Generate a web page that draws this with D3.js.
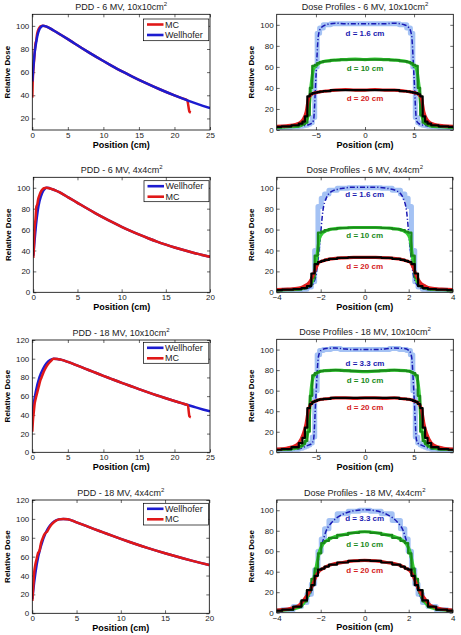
<!DOCTYPE html>
<html><head><meta charset="utf-8">
<script src="https://cdn.jsdelivr.net/npm/d3@7"></script>
<style>body{margin:0;background:#fff}svg{display:block}text{font-family:Arial,"Liberation Sans",sans-serif}</style>
</head><body><svg id="c" width="461" height="635"></svg>
<script>
// ---------- PDD data ----------
const pdd1WellDepth = [0,0.1,0.2,0.3,0.5,0.7,1.0,1.3,1.5,1.8,2.0,2.5,3,4,5,6,7,8,9,10,11,12,13,14,15,16,17,18,19,20,21,22,23,24,25];
const pdd1WellDose  = [52,60,68,75,84,91,97,99.5,100,99.8,99.3,97.8,96,92.3,88.5,84.6,80.7,76.9,73.2,69.6,66.1,62.7,59.5,56.4,53.4,50.5,47.7,45.0,42.4,39.9,37.5,35.2,33.0,30.9,28.9];
const pdd1MCDepth = [0,0.05,0.15,0.25,0.35,0.45,0.55,0.65,0.8,1.0,1.2,1.5,2,3,4,5,6,7,8,9,10,11,12,13,14,15,16,17,18,19,20,21,21.8,21.9,22.0,22.1,22.3];
const pdd1MCDose  = [38,50,62,70,78,85,87,92,96,98.5,99.8,100,99.3,96,92.3,88.5,84.6,80.7,76.9,73.2,69.6,66.1,62.7,59.5,56.4,53.4,50.5,47.7,45.0,42.4,39.9,37.5,35.7,33,29,26,25];

const pdd2WellDepth = [0,0.1,0.2,0.3,0.5,0.7,1.0,1.3,1.5,1.8,2,2.5,3,4,5,6,7,8,9,10,11,12,13,14,15,16,17,18,19,20];
const pdd2WellDose  = [35,45,55,64,78,87,95,99,100,99.7,99,97.5,95.5,90.6,85.6,80.6,75.8,71.2,66.8,62.6,58.7,55.1,51.7,48.5,45.6,42.9,40.4,38.1,36.0,34.0];
const pdd2MCDepth = [0,0.05,0.15,0.25,0.35,0.45,0.55,0.7,0.85,1.0,1.2,1.5,2,2.5,3,4,5,6,7,8,9,10,11,12,13,14,15,16,17,18,19,20];
const pdd2MCDose  = [33,40,62,70,82,84,89,93,96,98,99.5,100,99,97.5,95.5,90.6,85.6,80.6,75.8,71.2,66.8,62.6,58.7,55.1,51.7,48.5,45.6,42.9,40.4,38.1,36.0,34.0];

const pdd3WellDepth = [0,0.2,0.5,1.0,1.5,2.0,2.5,3.0,3.5,4,5,6,7,8,9,10,11,12,13,14,15,16,17,18,19,20,21,22,23,24,25];
const pdd3WellDose  = [40,52,65,80,89,95,98.5,100,99.8,99,96.6,93.7,90.7,87.7,84.7,81.7,78.8,75.9,73.1,70.3,67.5,64.8,62.2,59.7,57.2,54.8,52.5,50.2,48.0,45.8,43.7];
const pdd3MCDepth = [0,0.1,0.2,0.3,0.5,0.7,0.9,1.1,1.3,1.5,1.8,2.2,2.6,3.0,3.5,4,5,6,7,8,9,10,11,12,13,14,15,16,17,18,19,20,21,21.9,22.0,22.1,22.3];
const pdd3MCDose  = [22,35,42,50,58,64,70,76,80,84,89,94,97.5,100,99.8,99,96.6,93.7,90.7,87.7,84.7,81.7,78.8,75.9,73.1,70.3,67.5,64.8,62.2,59.7,57.2,54.8,52.5,50.3,44,38.5,37.5];

const pdd4WellDepth = [0,0.2,0.5,1.0,1.5,2.0,2.5,3.0,3.5,4.0,5,6,7,8,9,10,11,12,13,14,15,16,17,18,19,20];
const pdd4WellDose  = [15,32,52,72,85,93,97.5,99.5,100,99.7,96.3,92.8,89.2,85.7,82.2,78.8,75.5,72.3,69.3,66.4,63.6,60.9,58.3,55.8,53.4,51.1];
const pdd4MCDepth = [0,0.1,0.2,0.35,0.5,0.65,0.8,1.0,1.2,1.4,1.7,2.0,2.5,3.0,3.5,4.0,5,6,7,8,9,10,11,12,13,14,15,16,17,18,19,20];
const pdd4MCDose  = [13,27,42,52,58,64,66,75,80,84,87,92,97,99.5,100,99.7,96.3,92.8,89.2,85.7,82.2,78.8,75.5,72.3,69.3,66.4,63.6,60.9,58.3,55.8,53.4,51.1];

// ---------- Profile data ----------
const X10 = [-9,-8,-7,-6.5,-6.25,-6,-5.75,-5.5,-5.25,-5,-4.75,-4.5,-4,-3,-2,-1,0,1,2,3,4,4.5,4.75,5,5.25,5.5,5.75,6,6.25,6.5,7,8,9];
const X4  = [-4,-3.5,-3,-2.75,-2.5,-2.35,-2.2,-2.05,-1.9,-1.75,-1.5,-1,-0.5,0,0.5,1,1.5,1.75,1.9,2.05,2.2,2.35,2.5,2.75,3,3.5,4];

const p2BlueMC    = [2,2.5,3,3.5,4,4.5,5.5,7,12,60,92,97,100,101,101,101,101,101,101,101,100,97,92,60,12,7,5.5,4.5,4,3.5,3,2.5,2];
const p2BlueMeas  = [2,2.5,3,3.5,4,4.5,5,6,9,50,90,97,100,101.5,101,101,101,101,101,101.5,100,97,90,50,9,6,5,4.5,4,3.5,3,2.5,2];
const p2GreenMC   = [2.5,3,3.5,4.5,5.5,7,14,40,61,62,63.5,64.5,65.5,66.5,67,67,67,67,67,66.5,65.5,64.5,63.5,62,61,40,14,7,5.5,4.5,3.5,3,2.5];
const p2GreenMeas = [2.5,3,3.5,4.5,6,8,17,42,58,61,63,64.5,65.5,66.5,67,67.5,67,67.5,67,66.5,65.5,64.5,63,61,58,42,17,8,6,4.5,3.5,3,2.5];
const p2BlackMC   = [3,3.5,4.5,6,8,13,32,34,35,35.5,36,36.5,37,38,38,38,38,38,38,38,37,36.5,36,35.5,35,34,32,13,8,6,4.5,3.5,3];
const p2RedMeas   = [3.5,4,5.5,8,11,17,30,33.5,35,35.5,36,36.5,37,38,38.5,38,38,38.5,38,38,37,36.5,36,35.5,35,33.5,30,17,11,8,5.5,4,3.5];

const p4BlueMC    = [1.5,2,2.5,3,5,10,40,82,90,94,97.5,99.5,100,100,100,99.5,97.5,94,90,82,40,10,5,3,2.5,2,1.5];
const p4BlueMeas  = [1.5,2,2.5,3,4.5,8,18,45,78,90,96.5,99.5,100.5,100.5,100.5,99.5,96.5,90,78,45,18,8,4.5,3,2.5,2,1.5];
const p4GreenMC   = [2,2.5,3,4,7,14,35,57,58,59.5,60.5,61.5,62,62,62,61.5,60.5,59.5,58,57,35,14,7,4,3,2.5,2];
const p4GreenMeas = [2,2.5,3,4,7,12,30,52,57,59,60.5,61.5,62,62,62,61.5,60.5,59,57,52,30,12,7,4,3,2.5,2];
const p4BlackMC   = [2,2.5,3,4,6,18,27,29,30,31,32,33,33.5,33.5,33.5,33,32,31,30,29,27,18,6,4,3,2.5,2];
const p4RedMeas   = [2.5,3,4,6,10,16,24,29,30,31,32,33,33.5,33.5,33.5,33,32,31,30,29,24,16,10,6,4,3,2.5];

const p6BlueMC    = [2,2.5,3,4,5,6,7,9,15,60,95,99,100,101,100,100,100,100,100,101,100,99,95,60,15,9,7,6,5,4,3,2.5,2];
const p6BlueMeas  = [2,2.5,3,4,5,6,7,8,12,55,93,99,101,101.5,100.5,100,100,100,100.5,101.5,101,99,93,55,12,8,7,6,5,4,3,2.5,2];
const p6GreenMC   = [2.5,3,4,6,8,11,20,55,75,77,78,79,79.5,80,79.5,79,79,79,79.5,80,79.5,79,78,77,75,55,20,11,8,6,4,3,2.5];
const p6GreenMeas = [2.5,3,4,6,8,12,25,60,74,76.5,78,79,79.5,80,79.5,79,78.5,79,79.5,80,79.5,79,78,76.5,74,60,25,12,8,6,4,3,2.5];
const p6BlackMC   = [2.5,3,5,9,14,24,43,47,49,50,51,51.5,52,53,53,53,53,53,53,53,52,51.5,51,50,49,47,43,24,14,9,5,3,2.5];
const p6RedMeas   = [3,4,7,13,19,28,42,47,49,50,51,51.5,52,53,53,52.5,53,53,52.5,53,52,51.5,51,50,49,47,42,28,19,13,7,4,3];

const p8BlueMC    = [2,3,6,10,18,28,42,60,72,82,90,96.5,99,100,99,96.5,90,82,72,60,42,28,18,10,6,3,2];
const p8BlueMeas  = [2,3,5.5,9,17,26,40,58,70,80,88,96,99.5,100.5,99.5,96,88,80,70,58,40,26,17,9,5.5,3,2];
const p8GreenMC   = [2,3,5.5,11,22,33,43,58,68,70,73,76,78,79,78,76,73,70,68,58,43,33,22,11,5.5,3,2];
const p8GreenMeas = [2,3,5,10,20,30,45,60,67,70,73,76,78,79,78,76,73,70,67,60,45,30,20,10,5,3,2];
const p8BlackMC   = [2,3,6,12,22,27,36,42,43,45,47,49,50.5,51,50.5,49,47,45,43,42,36,27,22,12,6,3,2];
const p8RedMeas   = [2.5,3.5,7,13,21,28,36,41,43,45,47,49,50.5,51,50.5,49,47,45,43,41,36,28,21,13,7,3.5,2.5];

// ---------- Labels / ticks ----------
const titles = [
  ["PDD - 6 MV, 10x10cm","2"], ["Dose Profiles - 6 MV, 10x10cm","2"],
  ["PDD - 6 MV, 4x4cm","2"],   ["Dose Profiles - 6 MV, 4x4cm","2"],
  ["PDD - 18 MV, 10x10cm","2"],["Dose Profiles - 18 MV, 10x10cm","2"],
  ["PDD - 18 MV, 4x4cm","2"],  ["Dose Profiles - 18 MV, 4x4cm","2"]
];
const xTicksPDD25 = [0,5,10,15,20,25];
const xTicksPDD20 = [0,5,10,15,20];
const xTicksProf10 = [-5,0,5];
const xTicksProf4 = [-4,-2,0,2,4];
const yTicks1 = [20,40,60,80,100];
const yTicks110 = [0,20,40,60,80,100];
const yTicks120 = [0,20,40,60,80,100,120];
const legendOrder1 = ["MC","Wellhofer"];
const legendOrder2 = ["Wellhofer","MC"];
const depthLabels16 = ["d = 1.6 cm","d = 10 cm","d = 20 cm"];
const depthLabels33 = ["d = 3.3 cm","d = 10 cm","d = 20 cm"];
const p2LabelY = [89,56,28];
const p4LabelY = [91,51.7,22.3];
const p6LabelY = [84.3,67.8,41.2];
const p8LabelY = [89.8,64.4,39];

// ---------- Drawing ----------
const svg = d3.select("#c");
const RED = "#e01818", BLUE = "#1c1cd0";
let clipId = 0;

function panel(o){
  const x = d3.scaleLinear().domain(o.xd).range([o.x0,o.x1]);
  const y = d3.scaleLinear().domain(o.yd).range([o.y1,o.y0]);
  const g = svg.append("g");
  const id = "clip"+(clipId++);
  svg.append("clipPath").attr("id",id).append("rect")
    .attr("x",o.x0).attr("y",o.y0).attr("width",o.x1-o.x0).attr("height",o.y1-o.y0);
  const ax = (gen, tr, labels) => {
    const a = g.append("g").attr("transform",tr).call(gen);
    a.select(".domain").remove();
    a.selectAll(".tick line").attr("stroke","#000").attr("stroke-width",0.6);
    a.selectAll("text").attr("font-size","8px").attr("fill","#222").style("font-family","Arial,'Liberation Sans',sans-serif");
    if(!labels) a.selectAll("text").remove();
  };
  ax(d3.axisBottom(x).tickValues(o.xt).tickSize(-3).tickPadding(2.5), `translate(0,${o.y1})`, true);
  ax(d3.axisTop(x).tickValues(o.xt).tickSize(-3), `translate(0,${o.y0})`, false);
  ax(d3.axisLeft(y).tickValues(o.yt).tickSize(-3).tickPadding(3), `translate(${o.x0},0)`, true);
  ax(d3.axisRight(y).tickValues(o.yt).tickSize(-3), `translate(${o.x1},0)`, false);
  const plot = g.append("g").attr("clip-path",`url(#${id})`);
  g.append("rect").attr("x",o.x0).attr("y",o.y0).attr("width",o.x1-o.x0).attr("height",o.y1-o.y0)
    .attr("fill","none").attr("stroke","#000").attr("stroke-width",0.8);
  const t = g.append("text").attr("x",(o.x0+o.x1)/2).attr("y",o.y0-4.5).attr("text-anchor","middle")
    .attr("font-size","9px").attr("fill","#222");
  t.append("tspan").text(o.title[0]);
  t.append("tspan").attr("font-size","6px").attr("dy","-3.5").text(o.title[1]);
  g.append("text").attr("x",(o.x0+o.x1)/2).attr("y",o.y1+17.5).attr("text-anchor","middle")
    .attr("font-size","9px").attr("font-weight","bold").attr("fill","#000").text("Position (cm)");
  g.append("text").attr("transform",`translate(${o.x0-25.5},${(o.y0+o.y1)/2}) rotate(-90)`)
    .attr("text-anchor","middle").attr("dy","0.35em").attr("font-size","8px").attr("font-weight","bold")
    .attr("fill","#000").text("Relative Dose");
  return {x,y,g,plot,o};
}

function drawLine(p, xs, ys, st){
  const pts = xs.map((v,i)=>[v,ys[i]]);
  const ln = d3.line().x(d=>p.x(d[0])).y(d=>p.y(d[1])).curve(st.curve||d3.curveLinear);
  p.plot.append("path").datum(pts).attr("d",ln).attr("fill","none")
    .attr("stroke",st.color).attr("stroke-width",st.w).attr("stroke-linejoin","round")
    .attr("stroke-dasharray",st.dash||null);
}

function legend(p, names, lx0, lx1, ly0, ly1){
  p.g.append("rect").attr("x",lx0).attr("y",ly0).attr("width",lx1-lx0).attr("height",ly1-ly0)
    .attr("fill","#fff").attr("stroke","#000").attr("stroke-width",0.7);
  names.forEach((n,i)=>{
    const yy = ly0 + 5.5 + i*10.5;
    p.g.append("line").attr("x1",lx0+3.5).attr("x2",lx0+20).attr("y1",yy).attr("y2",yy)
      .attr("stroke", n==="MC"?RED:BLUE).attr("stroke-width",2.6);
    p.g.append("text").attr("x",lx0+21.5).attr("y",yy).attr("dy","0.35em").attr("font-size","9px")
      .attr("fill","#222").text(n);
  });
}

function pddPanel(o, wd, wv, md, mv, redOnTop, names, leg){
  const p = panel(o);
  const W = {color:BLUE,w:2.5,curve:d3.curveMonotoneX};
  const M = {color:RED,w:2.5,curve:d3.curveMonotoneX};
  if(redOnTop){ drawLine(p,wd,wv,W); drawLine(p,md,mv,M); }
  else { drawLine(p,md,mv,M); drawLine(p,wd,wv,W); }
  legend(p, names, ...leg);
}

function profPanel(o, X, bMC, bMe, gMC, gMe, kMC, rMe, labels, labelY){
  const p = panel(o);
  drawLine(p,X,bMC,{color:"#a4c2f4",w:5,curve:d3.curveStep});
  drawLine(p,X,bMe,{color:"#1a1ab4",w:1.5,dash:"5,2,1.2,2",curve:d3.curveMonotoneX});
  drawLine(p,X,gMe,{color:"#33cc33",w:3.2,curve:d3.curveMonotoneX});
  drawLine(p,X,gMC,{color:"#1a8a1a",w:2.2,curve:d3.curveStep});
  drawLine(p,X,rMe,{color:"#e02020",w:3.2,curve:d3.curveMonotoneX});
  drawLine(p,X,kMC,{color:"#000",w:2.2,curve:d3.curveStep});
  const cols = ["#1a1ab0","#1a8a1a","#d42020"];
  labels.forEach((t,i)=>{
    p.g.append("text").attr("x",p.x(0)).attr("y",p.y(labelY[i])).attr("text-anchor","middle")
      .attr("font-size","8px").attr("font-weight","bold").attr("fill",cols[i]).text(t);
  });
}

pddPanel({x0:32.3,x1:210,y0:14.3,y1:130,xd:[0,25],yd:[10,110],xt:xTicksPDD25,yt:yTicks1,title:titles[0]},
  pdd1WellDepth,pdd1WellDose,pdd1MCDepth,pdd1MCDose,false,legendOrder1,[143.5,208.8,19,40.7]);
profPanel({x0:276.7,x1:453.3,y0:14.3,y1:130,xd:[-9,9],yd:[0,110],xt:xTicksProf10,yt:yTicks110,title:titles[1]},
  X10,p2BlueMC,p2BlueMeas,p2GreenMC,p2GreenMeas,p2BlackMC,p2RedMeas,depthLabels16,p2LabelY);

pddPanel({x0:33.3,x1:210,y0:177.3,y1:292.3,xd:[0,20],yd:[0,110],xt:xTicksPDD20,yt:yTicks110,title:titles[2]},
  pdd2WellDepth,pdd2WellDose,pdd2MCDepth,pdd2MCDose,true,legendOrder2,[144,209,180.7,201.7]);
profPanel({x0:276.7,x1:452.7,y0:177.3,y1:292.3,xd:[-4,4],yd:[0,110],xt:xTicksProf4,yt:yTicks110,title:titles[3]},
  X4,p4BlueMC,p4BlueMeas,p4GreenMC,p4GreenMeas,p4BlackMC,p4RedMeas,depthLabels16,p4LabelY);

pddPanel({x0:32.3,x1:210,y0:340,y1:452.3,xd:[0,25],yd:[0,120],xt:xTicksPDD25,yt:yTicks120,title:titles[4]},
  pdd3WellDepth,pdd3WellDose,pdd3MCDepth,pdd3MCDose,true,legendOrder2,[143.5,208.8,342.3,363.3]);
profPanel({x0:276.7,x1:453.3,y0:339.3,y1:452.3,xd:[-9,9],yd:[0,110],xt:xTicksProf10,yt:yTicks110,title:titles[5]},
  X10,p6BlueMC,p6BlueMeas,p6GreenMC,p6GreenMeas,p6BlackMC,p6RedMeas,depthLabels33,p6LabelY);

pddPanel({x0:32.3,x1:209.3,y0:500,y1:613.3,xd:[0,20],yd:[0,120],xt:xTicksPDD20,yt:yTicks120,title:titles[6]},
  pdd4WellDepth,pdd4WellDose,pdd4MCDepth,pdd4MCDose,true,legendOrder2,[143.5,208.5,503.3,525]);
profPanel({x0:276.7,x1:452.7,y0:500,y1:612.7,xd:[-4,4],yd:[0,110],xt:xTicksProf4,yt:yTicks110,title:titles[7]},
  X4,p8BlueMC,p8BlueMeas,p8GreenMC,p8GreenMeas,p8BlackMC,p8RedMeas,depthLabels33,p8LabelY);
</script></body></html>
